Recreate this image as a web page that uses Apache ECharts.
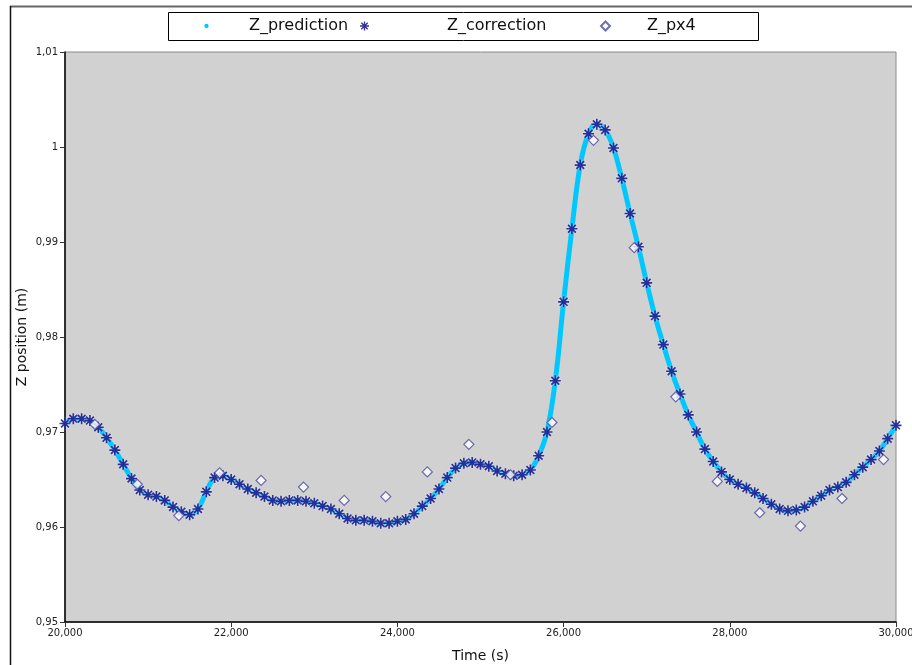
<!DOCTYPE html>
<html>
<head>
<meta charset="utf-8">
<script src="https://cdn.jsdelivr.net/npm/echarts@6/dist/echarts.min.js"></script>
<style>
  html, body { margin: 0; padding: 0; background: #fff; overflow: hidden; }
  #chart { width: 912px; height: 665px; }
</style>
</head>
<body>
<div id="chart"></div>
<script>
// sample times (s) of the correction step
var corrT = [
  20000, 20100, 20200, 20300, 20400, 20500, 20600, 20700, 20800, 20900,
  21000, 21100, 21200, 21300, 21400, 21500, 21600, 21700, 21800, 21900,
  22000, 22100, 22200, 22300, 22400, 22500, 22600, 22700, 22800, 22900,
  23000, 23100, 23200, 23300, 23400, 23500, 23600, 23700, 23800, 23900,
  24000, 24100, 24200, 24300, 24400, 24500, 24600, 24700, 24800, 24900,
  25000, 25100, 25200, 25300, 25400, 25500, 25600, 25700, 25800, 25900,
  26000, 26100, 26200, 26300, 26400, 26500, 26600, 26700, 26800, 26900,
  27000, 27100, 27200, 27300, 27400, 27500, 27600, 27700, 27800, 27900,
  28000, 28100, 28200, 28300, 28400, 28500, 28600, 28700, 28800, 28900,
  29000, 29100, 29200, 29300, 29400, 29500, 29600, 29700, 29800, 29900,
  30000
];
var corrZ = [
  0.9709, 0.9714, 0.9714, 0.9712, 0.9705, 0.9694, 0.9681, 0.9666, 0.9651, 0.9639,
  0.9634, 0.9632, 0.9628, 0.9621, 0.9616, 0.9613, 0.9619, 0.9637, 0.9652, 0.9654,
  0.9650, 0.9645, 0.9640, 0.9636, 0.9632, 0.9628, 0.9627, 0.9628, 0.9628, 0.9627,
  0.9625, 0.9622, 0.9619, 0.9614, 0.9609, 0.9607, 0.9607, 0.9606, 0.9604, 0.9604,
  0.9606, 0.9608, 0.9614, 0.9622, 0.9630, 0.9640, 0.9652, 0.9662, 0.9667, 0.9668,
  0.9666, 0.9664, 0.9659, 0.9656, 0.9654, 0.9655, 0.9660, 0.9675, 0.9700, 0.9754,
  0.9837, 0.9914, 0.9981, 1.0014, 1.0024, 1.0018, 0.9999, 0.9967, 0.9930, 0.9895,
  0.9857, 0.9822, 0.9792, 0.9764, 0.9740, 0.9718, 0.9700, 0.9682, 0.9669, 0.9658,
  0.9650, 0.9645, 0.9641, 0.9636, 0.9630, 0.9624, 0.9619, 0.9617, 0.9618, 0.9621,
  0.9627, 0.9633, 0.9639, 0.9642, 0.9647, 0.9655, 0.9663, 0.9671, 0.9680, 0.9693,
  0.9707
];
// px4 measurements
var pxT = [
  20360, 20870, 21370, 21860, 22360, 22870, 23360, 23860, 24360, 24860,
  25360, 25860, 26360, 26850, 27350, 27850, 28360, 28850, 29350, 29850
];
var pxZ = [
  0.9708, 0.9645, 0.9612, 0.9657, 0.9649, 0.9642, 0.9628, 0.9632, 0.9658, 0.9687,
  0.9655, 0.9710, 1.0007, 0.9894, 0.9737, 0.9648, 0.9615, 0.9601, 0.9630, 0.9671
];
var seriesNames = ['Z_prediction', 'Z_correction', 'Z_px4'];

// asterisk marker
var STAR = 'path://M-0.9,-6L0.9,-6L0.9,6L-0.9,6Z M-6,-0.9L6,-0.9L6,0.9L-6,0.9Z ' +
  'M-4.9,-3.6L-3.6,-4.9L4.9,3.6L3.6,4.9Z M3.6,-4.9L4.9,-3.6L-3.6,4.9L-4.9,3.6Z';
var DOT = 'path://M-5,-5L-5,-5 M5,5L5,5 M0,-2.4A2.4,2.4,0,1,1,0,2.4A2.4,2.4,0,1,1,0,-2.4Z';

function pairs(xs, ys) {
  return xs.map(function (x, i) { return [x, ys[i]]; });
}

var FONT = 'DejaVu Sans';

// one legend per entry so the icon spacing can follow the original box
function legendItem(name, icon, left, textGap) {
  return {
    left: left,
    top: 18,
    padding: 0,
    itemWidth: 9,
    itemHeight: 9,
    data: [{ name: name, icon: icon }],
    textStyle: { fontFamily: FONT, fontSize: 16, color: '#111', padding: [0, 0, 0, textGap] }
  };
}

var chart = echarts.init(document.getElementById('chart'), null, { width: 912, height: 665 });

chart.setOption({
  animation: false,
  textStyle: { fontFamily: FONT },
  graphic: [
    { type: 'line', shape: { x1: 10, y1: 6.5, x2: 912, y2: 6.5 }, style: { stroke: '#666', lineWidth: 2 } },
    { type: 'line', shape: { x1: 10.5, y1: 6, x2: 10.5, y2: 665 }, style: { stroke: '#111', lineWidth: 1.5 } },
    { type: 'rect', shape: { x: 168.5, y: 12.5, width: 590, height: 28 }, style: { fill: '#fff', stroke: '#000', lineWidth: 1 }, z: 0 }
  ],
  legend: [
    legendItem(seriesNames[0], DOT, 202, 33),
    legendItem(seriesNames[1], STAR, 360, 73),
    legendItem(seriesNames[2], 'diamond', 600, 32)
  ],
  grid: {
    left: 65,
    right: 16,
    top: 52,
    bottom: 43,
    outerBoundsMode: 'none',
    show: true,
    backgroundColor: '#d1d1d1',
    borderColor: '#8a8a8a',
    borderWidth: 1
  },
  xAxis: {
    type: 'value',
    min: 20000,
    max: 30000,
    interval: 2000,
    name: 'Time (s)',
    nameLocation: 'middle',
    nameGap: 27,
    nameMoveOverlap: false,
    nameTextStyle: { fontFamily: FONT, fontSize: 14, color: '#111' },
    axisLine: { show: true, lineStyle: { color: '#000', width: 1.5 } },
    axisTick: { show: true, length: 5, lineStyle: { color: '#333' } },
    axisLabel: {
      fontFamily: FONT, fontSize: 10, color: '#222', margin: 6,
      formatter: function (v) { return v.toLocaleString('en-US'); }
    },
    splitLine: { show: false }
  },
  yAxis: {
    type: 'value',
    min: 0.95,
    max: 1.01,
    interval: 0.01,
    name: 'Z position (m)',
    nameLocation: 'middle',
    nameGap: 36,
    nameMoveOverlap: false,
    nameTextStyle: { fontFamily: FONT, fontSize: 14, color: '#111' },
    axisLine: { show: true, lineStyle: { color: '#000', width: 1.5 } },
    axisTick: { show: true, length: 5, lineStyle: { color: '#333' } },
    axisLabel: {
      fontFamily: FONT, fontSize: 10, color: '#222', margin: 7,
      formatter: function (v) { return String(Math.round(v * 100) / 100).replace('.', ','); }
    },
    splitLine: { show: false }
  },
  series: [
    {
      name: seriesNames[0],
      type: 'line',
      data: pairs(corrT, corrZ),
      smooth: 0.4,
      showSymbol: false,
      symbol: 'circle',
      itemStyle: { color: '#00c8ff' },
      lineStyle: { color: '#00c8ff', width: 5 },
      z: 1
    },
    {
      name: seriesNames[1],
      type: 'scatter',
      data: pairs(corrT, corrZ),
      symbol: STAR,
      symbolSize: 11,
      itemStyle: { color: '#000080', shadowColor: 'rgba(255,255,255,0.9)', shadowBlur: 2 },
      z: 2
    },
    {
      name: seriesNames[2],
      type: 'scatter',
      data: pairs(pxT, pxZ),
      symbol: 'diamond',
      symbolSize: 10,
      itemStyle: { color: '#fff', borderColor: '#4a4a9e', borderWidth: 1.2 },
      z: 3
    }
  ]
});
</script>
</body>
</html>
